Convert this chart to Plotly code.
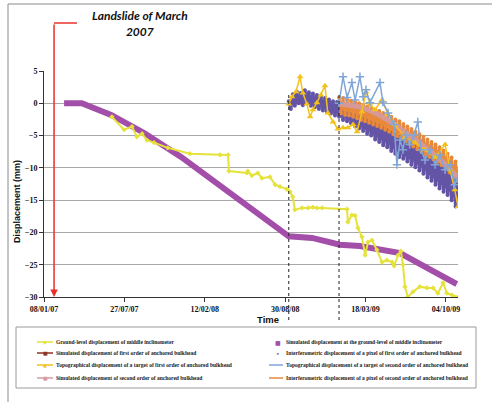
import plotly.graph_objects as go
import pandas as pd

# ---------------- data ----------------
tick_dates = ["2007-01-08", "2007-07-27", "2008-02-12", "2008-08-30", "2009-03-18", "2009-10-04"]
tick_text = ["08/01/07", "27/07/07", "12/02/08", "30/08/08", "18/03/09", "04/10/09"]

# simulated displacement at the ground level of the middle inclinometer
mid_sim_dates = ["2007-02-27", "2007-04-12", "2007-06-24", "2007-09-14", "2007-12-15", "2008-08-17",
                 "2008-09-08", "2008-11-05", "2009-01-13", "2009-03-04", "2009-06-12", "2009-08-18",
                 "2009-10-31"]
mid_sim_vals = [0, 0, -1.8, -4.6, -8.3, -19.4, -20.6, -20.85, -21.9, -22.1, -23.2, -25.5, -28.0]

# ground-level displacement of the middle inclinometer
ground_dates = ["2007-06-26", "2007-07-26", "2007-08-15", "2007-08-27", "2007-09-09", "2007-09-21",
                "2007-10-09", "2007-11-12", "2008-01-06", "2008-03-21", "2008-04-10", "2008-04-12",
                "2008-05-27", "2008-05-29", "2008-06-08", "2008-06-23", "2008-07-03", "2008-07-23",
                "2008-08-05", "2008-08-17", "2008-09-03", "2008-09-11", "2008-09-18", "2008-09-23",
                "2008-10-11", "2008-10-26", "2008-11-07", "2008-11-17", "2008-11-30", "2009-01-31",
                "2009-02-02", "2009-02-12", "2009-02-20", "2009-02-27", "2009-03-09", "2009-03-17",
                "2009-03-24", "2009-04-03", "2009-04-15", "2009-04-28", "2009-05-10", "2009-05-23",
                "2009-05-28", "2009-06-07", "2009-06-14", "2009-06-19", "2009-06-24", "2009-07-01",
                "2009-07-14", "2009-07-31", "2009-08-18", "2009-09-02", "2009-09-14", "2009-09-27",
                "2009-10-06", "2009-10-19", "2009-11-03"]
ground_vals = [-2.1, -4.1, -3.6, -5.2, -4.7, -5.7,
               -6.1, -6.9, -7.8, -8.0, -8.0, -10.5,
               -10.8, -10.5, -11.2, -10.8, -11.6, -11.4,
               -12.6, -12.9, -13.3, -13.7, -14.5, -16.5,
               -16.2, -16.2, -16.1, -16.2, -16.2, -16.4,
               -18.4, -17.3, -17.4, -19.3, -20.7, -23.5,
               -21.5, -21.2, -22.7, -24.6, -24.3, -24.6,
               -25.2, -23.5, -22.9, -25.0, -28.4, -30.0,
               -29.2, -28.4, -28.6, -28.6, -29.4, -27.8,
               -29.4, -29.7, -30.0]

# simulated displacement of the first order of the anchored bulkhead
sim1_dates = ["2008-09-08", "2008-11-25", "2009-01-13", "2009-03-29", "2009-06-12", "2009-08-25", "2009-11-03"]
sim1_vals = [0.0, -0.2, -1.0, -2.8, -5.2, -8.0, -11.0]

# simulated displacement of the second order of the anchored bulkhead
sim2_dates = ["2009-01-11", "2009-03-04", "2009-04-23", "2009-06-12", "2009-07-31", "2009-09-19", "2009-11-03"]
sim2_vals = [-0.1, -0.6, -1.9, -3.9, -6.2, -8.7, -11.5]

# interferometric displacement of a pixel of the first order (one acquisition every 5 days)
insar1_start, insar1_step = "2008-09-08", "5D"
insar1_vals = [0.3, -0.9, 1.4, -0.4, 1.8, 0.0, 1.6, -0.3, 2.0, 0.1,
               1.7, -0.4, 1.5, -0.6, 1.3, -0.9, 1.0, -1.1, 0.8, -1.3,
               0.6, -1.6, 0.3, -1.9, 0.2, -2.1, 0.0, -2.6, -0.2, -2.8,
               -0.5, -3.1, -0.8, -3.6, -1.0, -3.9, -1.4, -4.3, -1.8, -4.7,
               -2.2, -5.0, -2.4, -5.6, -2.7, -6.0, -3.0, -6.5, -3.3, -6.8,
               -3.9, -7.4, -4.2, -7.8, -4.6, -8.3, -5.0, -8.6, -5.4, -9.0,
               -5.7, -9.5, -6.0, -9.9, -6.4, -10.4, -6.8, -10.9, -7.3, -11.5,
               -7.8, -12.0, -8.2, -12.6, -8.4, -13.2, -8.9, -13.7, -9.4, -14.2,
               -9.9, -15.0, -10.8, -16.0, -11.5]

# interferometric displacement of a pixel of the second order (one acquisition every 5 days)
insar2_start, insar2_step = "2009-01-11", "5D"
insar2_vals = [0.9, -1.6, 0.8, -1.8, 0.6, -1.9, 0.4, -2.1, 0.2, -2.3,
               0.0, -2.6, -0.3, -2.8, -0.5, -3.0, -0.8, -3.3, -1.0, -3.5,
               -1.2, -3.8, -1.5, -4.1, -1.8, -4.4, -2.1, -4.8, -2.5, -5.1,
               -2.8, -5.5, -3.2, -5.9, -3.6, -6.3, -4.0, -6.7, -4.4, -7.1,
               -4.8, -7.5, -5.2, -7.9, -5.6, -8.3, -6.0, -8.7, -6.4, -9.1,
               -6.8, -9.6, -7.3, -10.1, -7.8, -10.7, -8.4, -11.3, -9.0, -12.0]

# topographical displacement of a target of the first order
topo1_dates = ["2008-09-08", "2008-09-16", "2008-09-26", "2008-10-06", "2008-10-13", "2008-10-23",
               "2008-10-31", "2008-11-07", "2008-11-17", "2008-11-27", "2008-12-07", "2008-12-14",
               "2008-12-27", "2009-01-08", "2009-01-21", "2009-02-02", "2009-02-15", "2009-02-25",
               "2009-03-09", "2009-03-19", "2009-03-29", "2009-04-10", "2009-04-28", "2009-05-13",
               "2009-05-30", "2009-06-24", "2009-07-19", "2009-08-13", "2009-09-07", "2009-10-02",
               "2009-10-14", "2009-10-26", "2009-11-03"]
topo1_vals = [-0.1, 1.0, 1.8, 4.1, 1.6, -0.1,
              -2.1, -1.0, 0.1, 1.3, 2.7, -1.5,
              -2.9, -4.0, -3.8, -3.8, -3.3, -4.4,
              -1.3, 1.8, -0.1, -1.0, 0.5, -1.8,
              -3.3, -5.3, -6.1, -7.2, -8.4, -6.4,
              -10.3, -13.4, -16.0]

# topographical displacement of a target of the second order
topo2_dates = ["2009-01-11", "2009-01-21", "2009-01-31", "2009-02-12", "2009-02-20", "2009-03-04",
               "2009-03-12", "2009-03-19", "2009-03-29", "2009-04-23", "2009-04-30", "2009-05-13",
               "2009-05-28", "2009-06-04", "2009-06-12", "2009-06-19", "2009-06-26", "2009-07-06",
               "2009-07-16", "2009-07-26", "2009-08-03", "2009-08-13", "2009-08-25", "2009-09-07",
               "2009-09-19", "2009-10-02", "2009-10-14", "2009-10-26", "2009-11-03"]
topo2_vals = [0.0, 4.1, 0.9, 3.2, 0.5, 4.1,
              1.0, 2.1, 0.1, 3.2, 0.2, -1.5,
              -3.3, -9.5, -5.7, -7.2, -4.9, -6.4,
              -4.9, -2.9, -7.2, -8.8, -7.2, -9.5,
              -8.0, -10.3, -9.5, -12.6, -11.6]

event_date, event_corner = "2007-02-02", "2007-03-31"
phase_dates = ["2008-09-08", "2009-01-11"]

# ---------------- colours ----------------
C_GROUND = "#E5E23A"
C_MIDSIM = "#A34FA9"
C_SIM1 = "#8E3424"
C_INSAR1 = "#6454A6"
C_TOPO1 = "#F2C21A"
C_TOPO2 = "#80A6D8"
C_SIM2 = "#D69AA2"
C_INSAR2 = "#E8893C"

# ---------------- layout helpers (pixel -> paper) ----------------
W, H = 492, 402
L, R, T, B = 44, 458, 71, 297


def px(x):
    return (x - L) / (R - L)


def py(y):
    return (B - y) / (B - T)


fig = go.Figure()

fig.add_trace(go.Scatter(x=mid_sim_dates, y=mid_sim_vals, mode="lines",
                         line=dict(color=C_MIDSIM, width=6), name="mid sim"))
fig.add_trace(go.Scatter(x=ground_dates, y=ground_vals, mode="lines+markers",
                         line=dict(color=C_GROUND, width=2),
                         marker=dict(symbol="diamond", size=4, color=C_GROUND), name="ground"))
fig.add_trace(go.Scatter(x=sim1_dates, y=sim1_vals, mode="lines", line_shape="spline",
                         line=dict(color=C_SIM1, width=2), name="sim1"))
fig.add_trace(go.Scatter(x=pd.date_range(insar1_start, periods=len(insar1_vals), freq=insar1_step),
                         y=insar1_vals, mode="lines+markers",
                         line=dict(color=C_INSAR1, width=3.2),
                         marker=dict(size=4, color=C_INSAR1), name="insar1"))
fig.add_trace(go.Scatter(x=pd.date_range(insar2_start, periods=len(insar2_vals), freq=insar2_step),
                         y=insar2_vals, mode="lines+markers",
                         line=dict(color=C_INSAR2, width=2.8),
                         marker=dict(size=4, color=C_INSAR2), name="insar2"))
fig.add_trace(go.Scatter(x=sim2_dates, y=sim2_vals, mode="lines", line_shape="spline",
                         line=dict(color=C_SIM2, width=5), opacity=0.9, name="sim2"))
fig.add_trace(go.Scatter(x=topo1_dates, y=topo1_vals, mode="lines+markers",
                         line=dict(color=C_TOPO1, width=1.5),
                         marker=dict(symbol="triangle-up", size=6, color=C_TOPO1), name="topo1"))
fig.add_trace(go.Scatter(x=topo2_dates, y=topo2_vals, mode="lines+markers",
                         line=dict(color=C_TOPO2, width=1.5),
                         marker=dict(symbol="cross-thin", size=6,
                                     line=dict(color=C_TOPO2, width=1.5)), name="topo2"))

shapes = []
annotations = []


def note(x, y, text, font, **kw):
    """Paper-positioned text, centred on (x, y) unless told otherwise."""
    d = dict(x=x, y=y, xref="paper", yref="paper", text=text, showarrow=False,
             xanchor="center", yanchor="middle", font=font)
    d.update(kw)
    annotations.append(d)


# outer frame (left and top edges)
shapes.append(dict(type="line", xref="paper", yref="paper", x0=px(8), x1=px(8), y0=py(4), y1=py(H + 5),
                   line=dict(color="#8A8A8A", width=1)))
shapes.append(dict(type="line", xref="paper", yref="paper", x0=px(8), x1=px(W + 5), y0=py(4), y1=py(4),
                   line=dict(color="#8A8A8A", width=1)))

# phase separators
for d in phase_dates:
    shapes.append(dict(type="line", xref="x", yref="paper", x0=d, x1=d, y0=py(95), y1=py(322),
                       line=dict(color="#222222", width=1, dash="dot")))

# landslide marker
shapes.append(dict(type="line", xref="x", yref="paper", x0=event_date, x1=event_corner,
                   y0=py(23), y1=py(23), line=dict(color="#E8302A", width=1.5)))
annotations.append(dict(x=event_date, y=-30, xref="x", yref="y", text="", showarrow=True,
                        ax=0, ay=-(B - 23), arrowhead=2, arrowsize=1, arrowwidth=1.5,
                        arrowcolor="#E8302A", standoff=0))
note(px(140), py(6), "Landslide of March<br>2007",
     dict(family="Lato", size=12, color="#111111", weight="bold", style="italic"),
     yanchor="top", align="center")

# axis titles
note(px(17), py(202), "Displacement (mm)",
     dict(family="Liberation Sans", size=9, color="#111111", weight="bold"), textangle=-90)
note(px(268), py(319), "Time", dict(family="Liberation Sans", size=9.5, color="#111111", weight="bold"))

# legend box
shapes.append(dict(type="rect", xref="paper", yref="paper", x0=px(16), x1=px(476), y0=py(388), y1=py(327),
                   line=dict(color="#9A9A9A", width=1), fillcolor="white"))

legend_left = [
    ("Ground-level displacement of middle inclinometer", C_GROUND, "◆"),
    ("Simulated displacement of first order of anchored bulkhead", C_SIM1, "■"),
    ("Topographical displacement of a target of first order of anchored bulkhead", C_TOPO1, "▲"),
    ("Simulated displacement of second order of anchored bulkhead", C_SIM2, "■"),
]
legend_right = [
    ("Simulated displacement at the ground-level of middle inclinometer", C_MIDSIM, "■", False),
    ("Interferometric displacement of a pixel of first order of anchored bulkhead", C_INSAR1, "•", False),
    ("Topographical displacement of a target of second order of anchored bulkhead", C_TOPO2, "", True),
    ("Interferometric displacement of a pixel of second order of anchored bulkhead", C_INSAR2, "", True),
]
rows = [342, 353, 365, 378]
LEG_FONT = dict(family="Liberation Serif", size=5.5, color="#222222", weight="bold")

for (label, col, sym), ry in zip(legend_left, rows):
    shapes.append(dict(type="line", xref="paper", yref="paper", x0=px(37), x1=px(53), y0=py(ry), y1=py(ry),
                       line=dict(color=col, width=1.5)))
    note(px(45), py(ry), sym, dict(family="DejaVu Sans", size=5, color=col))
    note(px(53.5), py(ry), label, LEG_FONT, xanchor="left")

for (label, col, sym, has_line), ry in zip(legend_right, rows):
    if has_line:
        shapes.append(dict(type="line", xref="paper", yref="paper", x0=px(269), x1=px(283), y0=py(ry),
                           y1=py(ry), line=dict(color=col, width=1.5)))
    if sym:
        note(px(278), py(ry), sym, dict(family="DejaVu Sans", size=6, color=col))
    note(px(284), py(ry), label, LEG_FONT, xanchor="left")

fig.update_layout(
    width=W, height=H,
    margin=dict(l=L, r=W - R, t=T, b=H - B, pad=0),
    paper_bgcolor="white", plot_bgcolor="white",
    showlegend=False,
    shapes=shapes, annotations=annotations,
    xaxis=dict(type="date", range=["2007-01-08", "2009-11-03"], tickvals=tick_dates, ticktext=tick_text,
               showgrid=False, zeroline=False, showline=True, linecolor="#333333", linewidth=1,
               ticks="outside", ticklen=4, tickcolor="#333333",
               tickfont=dict(family="Liberation Serif", size=8, color="#111111", weight="bold")),
    yaxis=dict(range=[-30, 5], tick0=0, dtick=5, showgrid=True, gridcolor="#A8A8A8", gridwidth=1,
               zeroline=False, showline=True, linecolor="#333333", linewidth=1,
               ticks="outside", ticklen=4, tickcolor="#333333",
               tickfont=dict(family="Liberation Serif", size=8, color="#111111", weight="bold")),
)

fig.write_html("out.html")
